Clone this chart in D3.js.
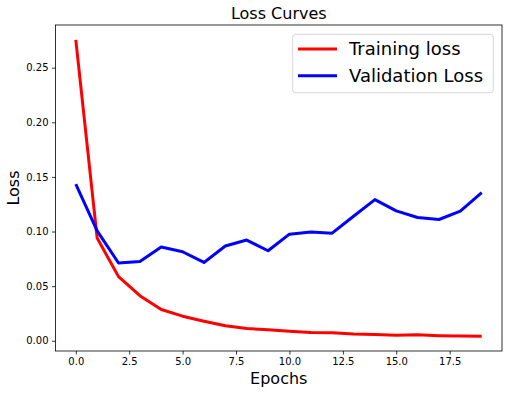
<!DOCTYPE html>
<html>
<head>
<meta charset="utf-8">
<script src="https://cdn.jsdelivr.net/npm/d3@7"></script>
<style>
  body { margin: 0; background: #fff; }
  svg { display: block; font-family: "DejaVu Sans", sans-serif; }
</style>
</head>
<body>
<svg width="512" height="394"></svg>
<script>
// data
let epochs = d3.range(20);
let trainLoss = [0.2755, 0.094, 0.0587, 0.0413, 0.0286, 0.0225, 0.0179, 0.0137, 0.0112, 0.0100,
                 0.0088, 0.0076, 0.0073, 0.0061, 0.0057, 0.0051, 0.0054, 0.0047, 0.0043, 0.0042];
let valLoss = [0.1435, 0.1006, 0.0712, 0.0726, 0.0858, 0.0815, 0.0717, 0.0867, 0.0922, 0.0824,
               0.0976, 0.0995, 0.0985, 0.1140, 0.1292, 0.1189, 0.1128, 0.1110, 0.1186, 0.1356];
let xTicks = [0, 2.5, 5, 7.5, 10, 12.5, 15, 17.5];
let yTicks = [0, 0.05, 0.10, 0.15, 0.20, 0.25];
let series = [
  {name: "Training loss", values: trainLoss, color: "#ff0000"},
  {name: "Validation Loss", values: valLoss, color: "#0000ff"}
];

var svg = d3.select("svg");
let plotLeft = 55.5, plotRight = 502, plotTop = 25, plotBottom = 351;

// matplotlib-style 5% margins
let x = d3.scaleLinear().domain([-0.95, 19.95]).range([plotLeft, plotRight]);
let allVals = trainLoss.concat(valLoss);
let yMin = d3.min(allVals), yMax = d3.max(allVals), pad = (yMax - yMin) * 0.05;
let y = d3.scaleLinear().domain([yMin - pad, yMax + pad]).range([plotBottom, plotTop]);

// axes
svg.append("g")
    .attr("transform", "translate(0," + plotBottom + ")")
    .call(d3.axisBottom(x).tickValues(xTicks).tickFormat(d3.format(".1f")).tickSizeInner(3.5).tickSizeOuter(0).tickPadding(3.5))
    .call(g => g.select(".domain").remove())
    .selectAll("text").attr("font-size", 10).attr("font-family", "DejaVu Sans").attr("fill", "#000");

svg.append("g")
    .attr("transform", "translate(" + plotLeft + ",0)")
    .call(d3.axisLeft(y).tickValues(yTicks).tickFormat(d3.format(".2f")).tickSizeInner(3.5).tickSizeOuter(0).tickPadding(3.5))
    .call(g => g.select(".domain").remove())
    .selectAll("text").attr("font-size", 10).attr("font-family", "DejaVu Sans").attr("fill", "#000");

svg.selectAll(".tick line").attr("stroke", "#000").attr("stroke-width", 0.8);

// lines
let line = d3.line().x((d, i) => x(epochs[i])).y(d => y(d));
svg.append("g")
    .selectAll("path")
    .data(series)
    .enter().append("path")
    .attr("d", d => line(d.values))
    .attr("fill", "none")
    .attr("stroke", d => d.color)
    .attr("stroke-width", 3)
    .attr("stroke-linejoin", "round");

// frame
svg.append("rect")
    .attr("x", plotLeft).attr("y", plotTop)
    .attr("width", plotRight - plotLeft).attr("height", plotBottom - plotTop)
    .attr("fill", "none").attr("stroke", "#000").attr("stroke-width", 0.8);

// title and labels
svg.append("text").attr("x", (plotLeft + plotRight) / 2).attr("y", 19)
    .attr("text-anchor", "middle").attr("font-size", 16).text("Loss Curves");
svg.append("text").attr("x", (plotLeft + plotRight) / 2).attr("y", 384)
    .attr("text-anchor", "middle").attr("font-size", 16).text("Epochs");
svg.append("text").attr("transform", "translate(19," + (plotTop + plotBottom) / 2 + ") rotate(-90)")
    .attr("text-anchor", "middle").attr("font-size", 16).text("Loss");

// legend
let legend = svg.append("g");
legend.append("rect")
    .attr("x", 292.7).attr("y", 34.3).attr("width", 200.6).attr("height", 58.4)
    .attr("rx", 3).attr("fill", "#fff").attr("fill-opacity", 0.8)
    .attr("stroke", "#ccc").attr("stroke-width", 0.8);
let item = legend.selectAll(".item")
    .data(series)
    .enter().append("g")
    .attr("class", "item")
    .attr("transform", (d, i) => "translate(0," + (49 + i * 26.8) + ")");
item.append("line")
    .attr("x1", 298).attr("x2", 337)
    .attr("stroke", d => d.color).attr("stroke-width", 3);
item.append("text")
    .attr("x", 349).attr("y", 6.3)
    .attr("font-size", 18).attr("fill", "#000")
    .text(d => d.name);
</script>
</body>
</html>
